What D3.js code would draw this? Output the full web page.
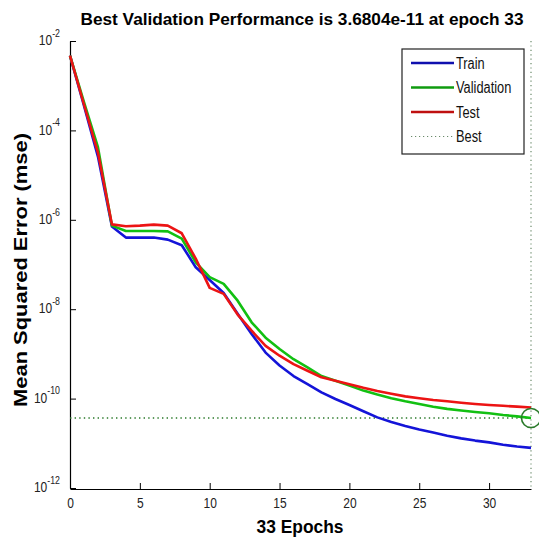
<!DOCTYPE html>
<html>
<head>
<meta charset="utf-8">
<script src="https://cdn.jsdelivr.net/npm/d3@7"></script>
<style>
  body { margin: 0; background: #fff; }
  svg { display: block; font-family: "Liberation Sans", Arial, sans-serif; }
</style>
</head>
<body>
<svg id="chart" width="539" height="539"></svg>
<script>
// epochs 0..33
const epochs = d3.range(0, 34);

// mean squared error per epoch
const train = [4.7e-3, 3.6e-4, 2.6e-5, 7.1e-7, 4.0e-7, 4.0e-7, 4.0e-7, 3.6e-7, 2.7e-7, 8.7e-8,
  4.5e-8, 2.3e-8, 7.9e-9, 2.8e-9, 1.07e-9, 5.5e-10, 3.2e-10, 2.1e-10, 1.38e-10, 9.8e-11,
  7.2e-11, 5.2e-11, 3.8e-11, 3.0e-11, 2.45e-11, 2.04e-11, 1.74e-11, 1.48e-11, 1.29e-11, 1.15e-11,
  1.05e-11, 9.3e-12, 8.5e-12, 7.9e-12];
const validation = [4.7e-3, 4.3e-4, 4.2e-5, 7.4e-7, 5.6e-7, 5.6e-7, 5.6e-7, 5.5e-7, 3.8e-7, 1.12e-7,
  5.2e-8, 3.7e-8, 1.55e-8, 5.1e-9, 2.3e-9, 1.29e-9, 7.6e-10, 5.0e-10, 3.2e-10, 2.5e-10,
  1.95e-10, 1.51e-10, 1.23e-10, 1.02e-10, 8.7e-11, 7.6e-11, 6.6e-11, 5.9e-11, 5.4e-11, 5.0e-11,
  4.7e-11, 4.3e-11, 4.0e-11, 3.6804e-11];
const test = [4.7e-3, 3.8e-4, 3.2e-5, 7.9e-7, 7.2e-7, 7.4e-7, 7.8e-7, 7.4e-7, 5.0e-7, 1.35e-7,
  3.0e-8, 2.2e-8, 7.6e-9, 3.3e-9, 1.51e-9, 9.1e-10, 5.9e-10, 4.2e-10, 3.0e-10, 2.5e-10,
  2.1e-10, 1.74e-10, 1.48e-10, 1.29e-10, 1.12e-10, 1.02e-10, 9.3e-11, 8.7e-11, 8.1e-11, 7.6e-11,
  7.2e-11, 6.9e-11, 6.6e-11, 6.3e-11];

const bestEpoch = 33;
const bestPerf = 3.6804e-11;

const xTicks = [0, 5, 10, 15, 20, 25, 30];
const yTicks = [1e-12, 1e-10, 1e-8, 1e-6, 1e-4, 1e-2];

const seriesNames = ["Train", "Validation", "Test"];
const seriesColors = ["#1414d8", "#12c012", "#ec1414"];
const bestColor = "#2a7a2a";

const titleText = "Best Validation Performance is 3.6804e-11 at epoch 33";
const xLabel = "33 Epochs";
const yLabel = "Mean Squared Error  (mse)";

const margin = {top: 41, right: 8, bottom: 51, left: 70};
const width = 539, height = 539;

const svg = d3.select("#chart");

const x = d3.scaleLinear()
  .domain([0, 33])
  .range([margin.left, width - margin.right]);

const y = d3.scaleLog()
  .domain([1e-12, 1e-2])
  .range([height - margin.bottom, margin.top]);

// squeeze text horizontally, the original font is narrow
function squeeze(sel, k) {
  sel.each(function() {
    let len = this.getComputedTextLength();
    d3.select(this).attr("textLength", len * k).attr("lengthAdjust", "spacingAndGlyphs");
  });
}

// axes
let xAxis = svg.append("g")
  .attr("transform", "translate(0," + (height - margin.bottom + 1) + ")")
  .call(d3.axisBottom(x).tickValues(xTicks).tickSizeInner(-6).tickSizeOuter(0).tickPadding(8));
xAxis.select(".domain").attr("stroke", "#000").attr("stroke-width", 1.2);
xAxis.selectAll(".tick line").attr("stroke", "#000");
xAxis.selectAll(".tick text")
  .attr("font-size", 15)
  .attr("fill", "#222")
  .attr("font-family", "Liberation Sans, Arial, sans-serif")
  .call(squeeze, 0.8);

let yAxis = svg.append("g")
  .attr("transform", "translate(" + margin.left + ",0)")
  .call(d3.axisLeft(y).tickValues(yTicks).tickSizeInner(-6).tickSizeOuter(0).tickFormat(""));
yAxis.select(".domain").attr("stroke", "#000").attr("stroke-width", 1.2);
yAxis.selectAll(".tick line").attr("stroke", "#000");

// y tick labels as 10 with superscript exponent
yAxis.selectAll(".tick").each(function(d) {
  let t = d3.select(this).append("text")
    .attr("dy", "0.36em")
    .attr("text-anchor", "end")
    .attr("fill", "#222")
    .attr("font-family", "Liberation Sans, Arial, sans-serif");
  t.append("tspan").attr("font-size", 15).text("10");
  t.append("tspan").attr("font-size", 11).attr("dy", "-0.75em").text(Math.round(Math.log10(d)));
  t.attr("transform", "scale(0.8,1)").attr("x", -10 / 0.8);
});

// best markers
svg.append("line")
  .attr("x1", x(0)).attr("x2", x(33))
  .attr("y1", y(bestPerf)).attr("y2", y(bestPerf))
  .attr("stroke", bestColor).attr("stroke-width", 1.4)
  .attr("stroke-dasharray", "1.4,3.2");
svg.append("line")
  .attr("x1", x(bestEpoch)).attr("x2", x(bestEpoch))
  .attr("y1", y(1e-2)).attr("y2", y(1e-12))
  .attr("stroke", "#6a8a6a").attr("stroke-width", 1.2)
  .attr("stroke-dasharray", "1.2,3.2");

// lines
let line = d3.line()
  .x((d, i) => x(epochs[i]))
  .y(d => y(d));

[train, validation, test].forEach(function(vals, i) {
  svg.append("path")
    .datum(vals)
    .attr("fill", "none")
    .attr("stroke", seriesColors[i])
    .attr("stroke-width", 2.6)
    .attr("stroke-linejoin", "round")
    .attr("d", line);
});

svg.append("circle")
  .attr("cx", x(bestEpoch)).attr("cy", y(bestPerf))
  .attr("r", 9.5)
  .attr("fill", "none")
  .attr("stroke", bestColor)
  .attr("stroke-width", 1.6);

// legend
let lg = svg.append("g").attr("transform", "translate(402,49)");
lg.append("rect")
  .attr("width", 122).attr("height", 105)
  .attr("fill", "#fff").attr("stroke", "#222").attr("stroke-width", 1.2);
let items = seriesNames.map((n, i) => ({name: n, color: seriesColors[i], dash: null}))
  .concat([{name: "Best", color: "#6a8a6a", dash: "1.2,2.8"}]);
let rows = lg.selectAll(".item").data(items).enter().append("g")
  .attr("transform", (d, i) => "translate(0," + (14 + i * 24.5) + ")");
rows.append("line")
  .attr("x1", 9).attr("x2", 52)
  .attr("stroke", d => d.dash ? d.color : d3.color(d.color).darker(0.6))
  .attr("stroke-width", d => d.dash ? 1.2 : 2.6)
  .attr("stroke-dasharray", d => d.dash);
rows.append("text")
  .attr("x", 54).attr("dy", "0.36em")
  .attr("font-size", 16).attr("fill", "#111")
  .text(d => d.name)
  .call(squeeze, 0.8);

// title and axis labels
svg.append("text")
  .attr("x", 302).attr("y", 25)
  .attr("text-anchor", "middle")
  .attr("font-size", 17).attr("font-weight", "bold")
  .text(titleText)
  .attr("textLength", 443).attr("lengthAdjust", "spacingAndGlyphs");

svg.append("text")
  .attr("x", 300).attr("y", 533)
  .attr("text-anchor", "middle")
  .attr("font-size", 18).attr("font-weight", "bold")
  .text(xLabel)
  .attr("textLength", 87).attr("lengthAdjust", "spacingAndGlyphs");

svg.append("text")
  .attr("transform", "translate(27,270) rotate(-90)")
  .attr("text-anchor", "middle")
  .attr("font-size", 18).attr("font-weight", "bold")
  .text(yLabel)
  .attr("textLength", 274).attr("lengthAdjust", "spacingAndGlyphs");
</script>
</body>
</html>
